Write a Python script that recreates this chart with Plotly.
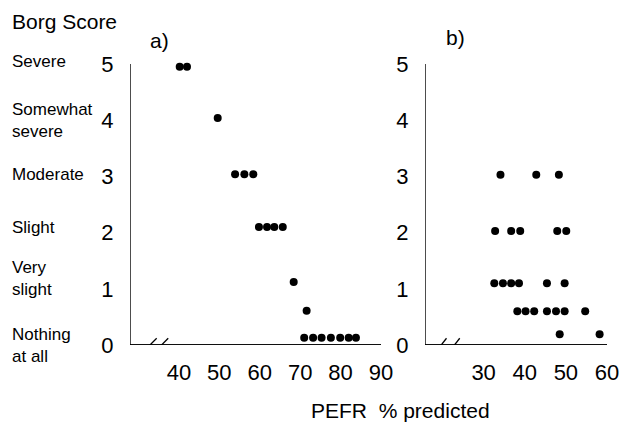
import plotly.graph_objects as go

# Panel a data (PEFR % predicted, Borg score)
a_pefr = [40.2, 42.0, 49.6, 53.9, 56.2, 58.4, 59.8, 61.8, 63.6, 65.7, 68.4, 71.6,
          71.0, 73.2, 75.3, 77.6, 79.9, 82.0, 83.8]
a_borg = [4.95, 4.95, 4.04, 3.04, 3.04, 3.04, 2.1, 2.1, 2.1, 2.1, 1.12, 0.61,
          0.13, 0.13, 0.13, 0.13, 0.13, 0.13, 0.13]

# Panel b data
b_pefr = [34.1, 42.8, 48.3,
          32.8, 36.7, 38.9, 47.9, 50.1,
          32.6, 34.7, 36.7, 38.6, 45.4, 49.7,
          38.2, 40.2, 42.3, 45.4, 47.6, 49.7, 54.7,
          48.5, 58.2]
b_borg = [3.03, 3.03, 3.03,
          2.03, 2.03, 2.03, 2.03, 2.03,
          1.1, 1.1, 1.1, 1.1, 1.1, 1.1,
          0.6, 0.6, 0.6, 0.6, 0.6, 0.6, 0.6,
          0.19, 0.19]

borg_ticks = [0, 1, 2, 3, 4, 5]
a_xticks = [40, 50, 60, 70, 80, 90]
b_xticks = [30, 40, 50, 60]
a_range = [27.9, 90]
b_range = [15.75, 60]
categories = ["Severe", "Somewhat<br>severe", "Moderate", "Slight", "Very<br>slight", "Nothing<br>at all"]
category_py = [62, 120, 174, 228, 278, 345]  # vertical centres in pixels from top

FONT = "Liberation Sans, Arial, sans-serif"
W, H = 621, 428


def px(x):
    return x / W


def py(y):
    return 1 - y / H


fig = go.Figure()

# x axis baselines drawn as line traces along the axis range
for xr, yr, xrng in [("x", "y", a_range), ("x2", "y2", b_range)]:
    fig.add_trace(go.Scatter(x=xrng, y=[0, 0], mode="lines", xaxis=xr, yaxis=yr,
                             line=dict(color="black", width=1.5), cliponaxis=False,
                             showlegend=False, hoverinfo="skip"))

fig.add_trace(go.Scatter(x=a_pefr, y=a_borg, mode="markers", xaxis="x", yaxis="y",
                         marker=dict(color="black", size=8), cliponaxis=False, showlegend=False))
fig.add_trace(go.Scatter(x=b_pefr, y=b_borg, mode="markers", xaxis="x2", yaxis="y2",
                         marker=dict(color="black", size=8), cliponaxis=False, showlegend=False))

ydom = [py(345), py(64)]
axis_common = dict(showline=False, ticks="outside", tickwidth=1,
                   tickcolor="rgba(0,0,0,0)", showgrid=False, zeroline=False,
                   automargin=False,
                   tickfont=dict(family=FONT, size=22, color="black"))

fig.update_layout(
    template="none",
    width=W, height=H, margin=dict(l=0, r=0, t=0, b=0, pad=0),
    plot_bgcolor="white", paper_bgcolor="white",
    xaxis=dict(domain=[px(130), px(381)], range=a_range, tickvals=a_xticks,
               anchor="y", ticklen=8, **axis_common),
    yaxis=dict(domain=ydom, range=[0, 5], tickvals=borg_ticks, anchor="x",
               ticklen=11, **axis_common),
    xaxis2=dict(domain=[px(425), px(607)], range=b_range, tickvals=b_xticks,
                anchor="y2", ticklen=8, **axis_common),
    yaxis2=dict(domain=ydom, range=[0, 5], tickvals=borg_ticks, anchor="x2",
                ticklen=11, **axis_common),
)

HWV = 0.7  # half width of vertical strokes, px
HWH = 1.0  # half width of horizontal strokes, px
RECT = dict(type="rect", fillcolor="black", line=dict(width=0), layer="above")
panels = [("x", "y", a_xticks, a_range, [(30.35, 34.5), (33.24, 37.35)]),
          ("x2", "y2", b_xticks, b_range, [(17.77, 20.98), (20.98, 24.2)])]
for xr, yr, xt, xrng, segs in panels:
    # x axis line (backup as shape)
    fig.add_shape(xref=f"{xr} domain", yref=yr, x0=0, x1=1,
                  ysizemode="pixel", yanchor=0, y0=-0.7, y1=0.7, **RECT)
    # y axis line
    fig.add_shape(xref=xr, yref=f"{yr} domain", y0=0, y1=1,
                  xsizemode="pixel", xanchor=xrng[0], x0=-HWV, x1=HWV, **RECT)
    # x ticks
    for v in xt:
        fig.add_shape(xref=xr, yref=yr, xsizemode="pixel", xanchor=v, x0=-HWV, x1=HWV,
                      ysizemode="pixel", yanchor=0, y0=-6, y1=0, **RECT)
    # y ticks
    for v in borg_ticks[1:]:
        fig.add_shape(type="line", xref=xr, yref=yr, xsizemode="pixel", xanchor=xrng[0],
                      x0=-7, x1=0, y0=v, y1=v, line=dict(color="black", width=1.5),
                      layer="above")
    # axis break marks
    for x0, x1 in segs:
        fig.add_shape(type="line", xref=xr, yref=yr, x0=x0, x1=x1, y0=-0.18, y1=0.12,
                      line=dict(color="black", width=1.3))

ann = []
for label, cy in zip(categories, category_py):
    ann.append(dict(text=label, xref="paper", yref="paper", x=px(10), y=py(cy), xanchor="left",
                    yanchor="middle", align="left", showarrow=False,
                    font=dict(family=FONT, size=17, color="black")))
ann.append(dict(text="Borg Score", xref="paper", yref="paper", x=px(10), y=py(22),
                xanchor="left", yanchor="middle", showarrow=False,
                font=dict(family=FONT, size=21, color="black")))
ann.append(dict(text="a)", xref="paper", yref="paper", x=px(148), y=py(40),
                xanchor="left", yanchor="middle", showarrow=False,
                font=dict(family=FONT, size=21, color="black")))
ann.append(dict(text="b)", xref="paper", yref="paper", x=px(444), y=py(38),
                xanchor="left", yanchor="middle", showarrow=False,
                font=dict(family=FONT, size=21, color="black")))
ann.append(dict(text="PEFR  % predicted", xref="paper", yref="paper", x=px(400), y=py(410),
                xanchor="center", yanchor="middle", showarrow=False,
                font=dict(family=FONT, size=21, color="black")))
fig.update_layout(annotations=ann)

fig.write_html("out.html", config={"displayModeBar": False},
               post_script="document.body.style.margin='0px';")
